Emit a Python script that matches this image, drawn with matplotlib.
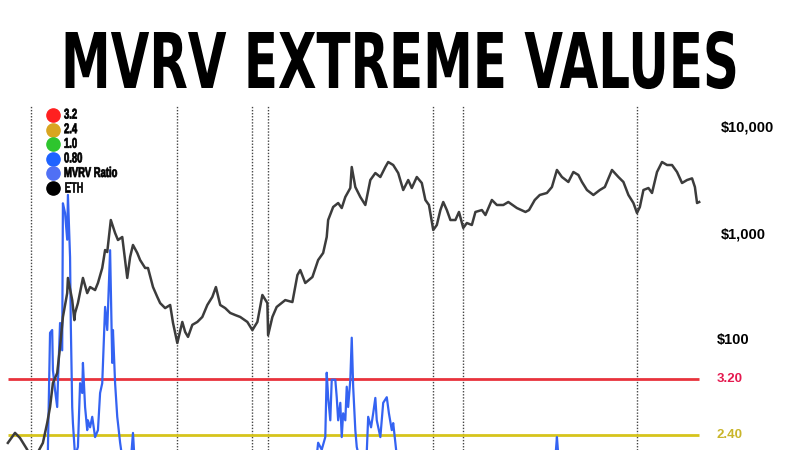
import matplotlib
matplotlib.use("Agg")
import matplotlib.pyplot as plt
from matplotlib import transforms
from matplotlib.patheffects import AbstractPathEffect
from matplotlib.transforms import Affine2D

# ETH price (USD), time as decimal year
eth_year = [2016.54, 2016.64, 2016.71, 2016.80, 2016.87, 2016.95, 2017.03, 2017.09, 2017.13, 2017.17,
            2017.23, 2017.27, 2017.31, 2017.37, 2017.38, 2017.44, 2017.47, 2017.48, 2017.52, 2017.59,
            2017.65, 2017.69, 2017.76, 2017.80, 2017.86, 2017.90, 2017.93, 2017.98, 2018.04, 2018.08,
            2018.14, 2018.21, 2018.25, 2018.29, 2018.35, 2018.39, 2018.46, 2018.50, 2018.57, 2018.63,
            2018.67, 2018.74, 2018.81, 2018.85, 2018.91, 2018.98, 2019.02, 2019.06, 2019.12, 2019.19,
            2019.26, 2019.33, 2019.40, 2019.45, 2019.51, 2019.58, 2019.65, 2019.72, 2019.79, 2019.89,
            2019.96, 2020.03, 2020.10, 2020.17, 2020.18, 2020.24, 2020.30, 2020.42, 2020.52, 2020.59,
            2020.63, 2020.70, 2020.80, 2020.88, 2020.95, 2021.00, 2021.02, 2021.09, 2021.16, 2021.21,
            2021.26, 2021.33, 2021.35, 2021.40, 2021.47, 2021.54, 2021.61, 2021.68, 2021.75, 2021.82,
            2021.86, 2021.93, 2022.00, 2022.07, 2022.14, 2022.19, 2022.26, 2022.33, 2022.38, 2022.43,
            2022.49, 2022.54, 2022.59, 2022.63, 2022.68, 2022.73, 2022.80, 2022.85, 2022.91, 2022.96,
            2023.03, 2023.08, 2023.17, 2023.22, 2023.31, 2023.38, 2023.47, 2023.54, 2023.66, 2023.78,
            2023.83, 2023.91, 2023.98, 2024.08, 2024.15, 2024.22, 2024.29, 2024.38, 2024.45, 2024.52,
            2024.57, 2024.64, 2024.73, 2024.82, 2024.89, 2024.99, 2025.08, 2025.15, 2025.22, 2025.29,
            2025.34, 2025.38, 2025.43, 2025.50, 2025.55, 2025.62, 2025.69, 2025.76, 2025.83, 2025.90,
            2025.97, 2026.04, 2026.11, 2026.15, 2026.18, 2026.21]
eth_price = [10.7, 13.3, 11.9, 9.5, 7.8, 8.5, 10.7, 16.5, 23.3, 39.3,
             48.8, 85.9, 165, 277, 385, 238, 154, 180, 223, 385,
             277, 316, 296, 345, 478, 706, 676, 1355, 1021, 878,
             937, 385, 607, 788, 662, 568, 478, 478, 316, 255,
             223, 200, 214, 145, 93.7, 148, 119, 107, 139, 148,
             165, 214, 255, 316, 214, 200, 180, 172, 165, 148,
             124, 148, 266, 223, 111, 165, 205, 238, 228, 410,
             457, 345, 393, 568, 662, 937, 1355, 1798, 1960, 1758,
             2234, 2716, 4285, 2775, 2234, 1878, 3230, 3760, 3449, 4285,
             4778, 4475, 3760, 2600, 3230, 2716, 3449, 3027, 2094, 1878,
             1091, 1216, 1683, 2004, 1683, 1355, 1355, 1614, 1140, 1270,
             1216, 1614, 1683, 1510, 2094, 1878, 1878, 2004, 1758, 1614,
             1683, 2094, 2334, 2438, 2775, 4018, 3449, 3096, 3846, 3604,
             3096, 2600, 2334, 2600, 2775, 4018, 3449, 3096, 2334, 1960,
             1578, 1798, 2600, 2716, 2438, 3846, 4778, 4475, 4475, 3846,
             3027, 3230, 3349, 2775, 1960, 2004]

# MVRV ratio (values under ~2.2 are below the visible crop, estimated)
mvrv_year = [2016.54, 2016.70, 2016.86, 2017.03, 2017.09, 2017.10, 2017.13, 2017.16, 2017.17, 2017.20,
             2017.23, 2017.24, 2017.27, 2017.30, 2017.31, 2017.34, 2017.37, 2017.38, 2017.41, 2017.42,
             2017.44, 2017.45, 2017.48, 2017.52, 2017.55, 2017.58, 2017.59, 2017.62, 2017.65, 2017.66,
             2017.69, 2017.72, 2017.76, 2017.80, 2017.83, 2017.86, 2017.90, 2017.93, 2017.97, 2018.00,
             2018.01, 2018.04, 2018.07, 2018.08, 2018.11, 2018.15, 2018.25, 2018.29, 2018.32, 2018.50,
             2018.91, 2019.45, 2019.96, 2020.18, 2020.60, 2020.85, 2020.88, 2020.93, 2020.98, 2021.00,
             2021.02, 2021.05, 2021.07, 2021.12, 2021.14, 2021.16, 2021.19, 2021.21, 2021.23, 2021.26,
             2021.28, 2021.30, 2021.33, 2021.35, 2021.37, 2021.40, 2021.42, 2021.47, 2021.55, 2021.58,
             2021.62, 2021.65, 2021.68, 2021.70, 2021.75, 2021.79, 2021.84, 2021.87, 2021.91, 2021.93,
             2021.96, 2021.98, 2022.20, 2022.49, 2022.91, 2023.50, 2024.00, 2024.20, 2024.22, 2024.24,
             2024.60, 2025.00, 2025.34, 2025.69, 2026.21]
mvrv_value = [1.9, 1.6, 1.1, 1.3, 2.0, 2.19, 3.86, 3.90, 3.33, 3.04,
              2.80, 3.14, 4.00, 3.61, 5.71, 5.57, 5.19, 5.83, 4.94, 4.00,
              2.80, 2.57, 2.10, 2.23, 3.14, 3.00, 3.43, 2.80, 2.47, 2.61,
              2.51, 2.66, 2.37, 2.47, 3.00, 3.14, 4.23, 3.90, 5.04, 3.43,
              3.90, 3.14, 2.66, 2.57, 2.29, 2.00, 1.90, 2.43, 1.90, 1.50,
              0.70, 1.40, 0.90, 0.80, 1.50, 2.00, 2.29, 2.19, 2.37, 3.29,
              2.94, 2.61, 3.19, 3.19, 2.94, 2.61, 2.86, 2.37, 2.71, 2.61,
              3.09, 2.80, 3.19, 3.79, 3.09, 2.47, 2.23, 2.00, 1.90, 2.66,
              2.51, 2.71, 2.93, 2.61, 2.37, 2.86, 2.94, 2.71, 2.47, 2.57,
              2.29, 2.10, 1.60, 0.80, 0.85, 1.30, 1.80, 2.10, 2.37, 2.10,
              1.50, 1.60, 0.80, 1.60, 0.90]

# MVRV bands and the dates of the marked bottoms
band_labels = ["3.2", "2.4", "1.0", "0.80"]
band_levels = [3.2, 2.4, 1.0, 0.8]
band_colors = ["#e8333c", "#d6c41c", "#2ec52e", "#1f63ff"]
bottom_years = [2016.86, 2018.91, 2019.96, 2020.18, 2022.49, 2022.91, 2025.34]
eth_ticks = [10000, 1000, 100]
eth_tick_labels = ["$10,000", "$1,000", "$100"]


class Squeeze(AbstractPathEffect):
    # redraws the text path scaled around an anchor point (display px)
    def __init__(self, kx, ky, x0, y0, stroke=0):
        super().__init__()
        self.kx, self.ky, self.x0, self.y0 = kx, ky, x0, y0
        self.stroke = stroke

    def draw_path(self, renderer, gc, tpath, affine, rgbFace=None):
        t = affine + Affine2D().translate(-self.x0, -self.y0).scale(self.kx, self.ky).translate(self.x0, self.y0)
        if self.stroke:
            gc0 = renderer.new_gc()
            gc0.copy_properties(gc)
            gc0.set_linewidth(self.stroke)
            gc0.set_foreground(rgbFace)
            renderer.draw_path(gc0, tpath, t, rgbFace)
            gc0.restore()
        else:
            renderer.draw_path(gc, tpath, t, rgbFace)


bold = ["Liberation Sans", "DejaVu Sans"]

fig = plt.figure(figsize=(8, 4.5), dpi=100)
fig.patch.set_facecolor("white")
renderer = fig.canvas.get_renderer()

ax = fig.add_axes([0, 0, 1, 345 / 450])
ax.set_xlim(2016.43, 2027.62)
ax.set_ylim(2.186, 7.114)
ax.axis("off")

ax2 = ax.twinx()
ax2.set_yscale("log")
ax2.set_ylim(9.17, 16480)
ax2.axis("off")

for yr in bottom_years:
    ax.axvline(yr, color="#444444", lw=1, ls=(0, (1, 1.2)), zorder=1)

for lvl, col in zip(band_levels, band_colors):
    ax.hlines(lvl, eth_year[0], eth_year[-1], color=col, lw=2, zorder=2)

ax.plot(mvrv_year, mvrv_value, color="#3463f2", lw=1.6, zorder=3)
ax2.plot(eth_year, eth_price, color="#3c3c3c", lw=1.8, zorder=4)

# right side labels
tr_eth = transforms.blended_transform_factory(fig.transFigure, ax2.transData)
for v, lab in zip(eth_ticks, eth_tick_labels):
    x0 = 0.901 if v >= 1000 else 0.896
    ax2.text(x0, v, lab, transform=tr_eth, ha="left", va="center",
             fontsize=10.5, fontweight="bold", family=bold, color="black")

tr_mv = transforms.blended_transform_factory(fig.transFigure, ax.transData)
ax.text(0.896, 3.2, "3.20", transform=tr_mv, ha="left", va="center",
        fontsize=9.5, fontweight="bold", family=bold, color="#e5194f")
ax.text(0.896, 2.4, "2.40", transform=tr_mv, ha="left", va="center",
        fontsize=9.5, fontweight="bold", family=bold, color="#c9b52a")

# legend
leg_labels = band_labels + ["MVRV Ratio", "ETH"]
leg_colors = ["#ff2020", "#d9a520", "#2ec52e", "#1f63ff", "#5070f5", "#000000"]
for i, (lab, col) in enumerate(zip(leg_labels, leg_colors)):
    ypx = 115 + i * 14.6
    yy = 1 - ypx / 450
    fig.add_artist(plt.Line2D([53 / 800], [yy], marker="o", markersize=9.5, color=col,
                              transform=fig.transFigure, ls=""))
    fig.text(64 / 800, yy, lab, ha="left", va="center", fontsize=8.5, fontweight="bold",
             family=bold, path_effects=[Squeeze(0.8, 1.2, 64, 450 - ypx, stroke=0.5)])

# title, squeezed into the box of the condensed poster font
title = fig.text(0.5, 1 - 88 / 450, "MVRV EXTREME VALUES", ha="center", va="baseline",
                 fontsize=36, fontweight="bold", family=["DejaVu Sans"], color="black")
w = title.get_window_extent(renderer).width
cap = 0.729 * 36 * 100 / 72
title.set_path_effects([Squeeze(678 / w, 56 / cap, 401, 450 - 88)])

fig.savefig("out.png", dpi=100, facecolor="white")
